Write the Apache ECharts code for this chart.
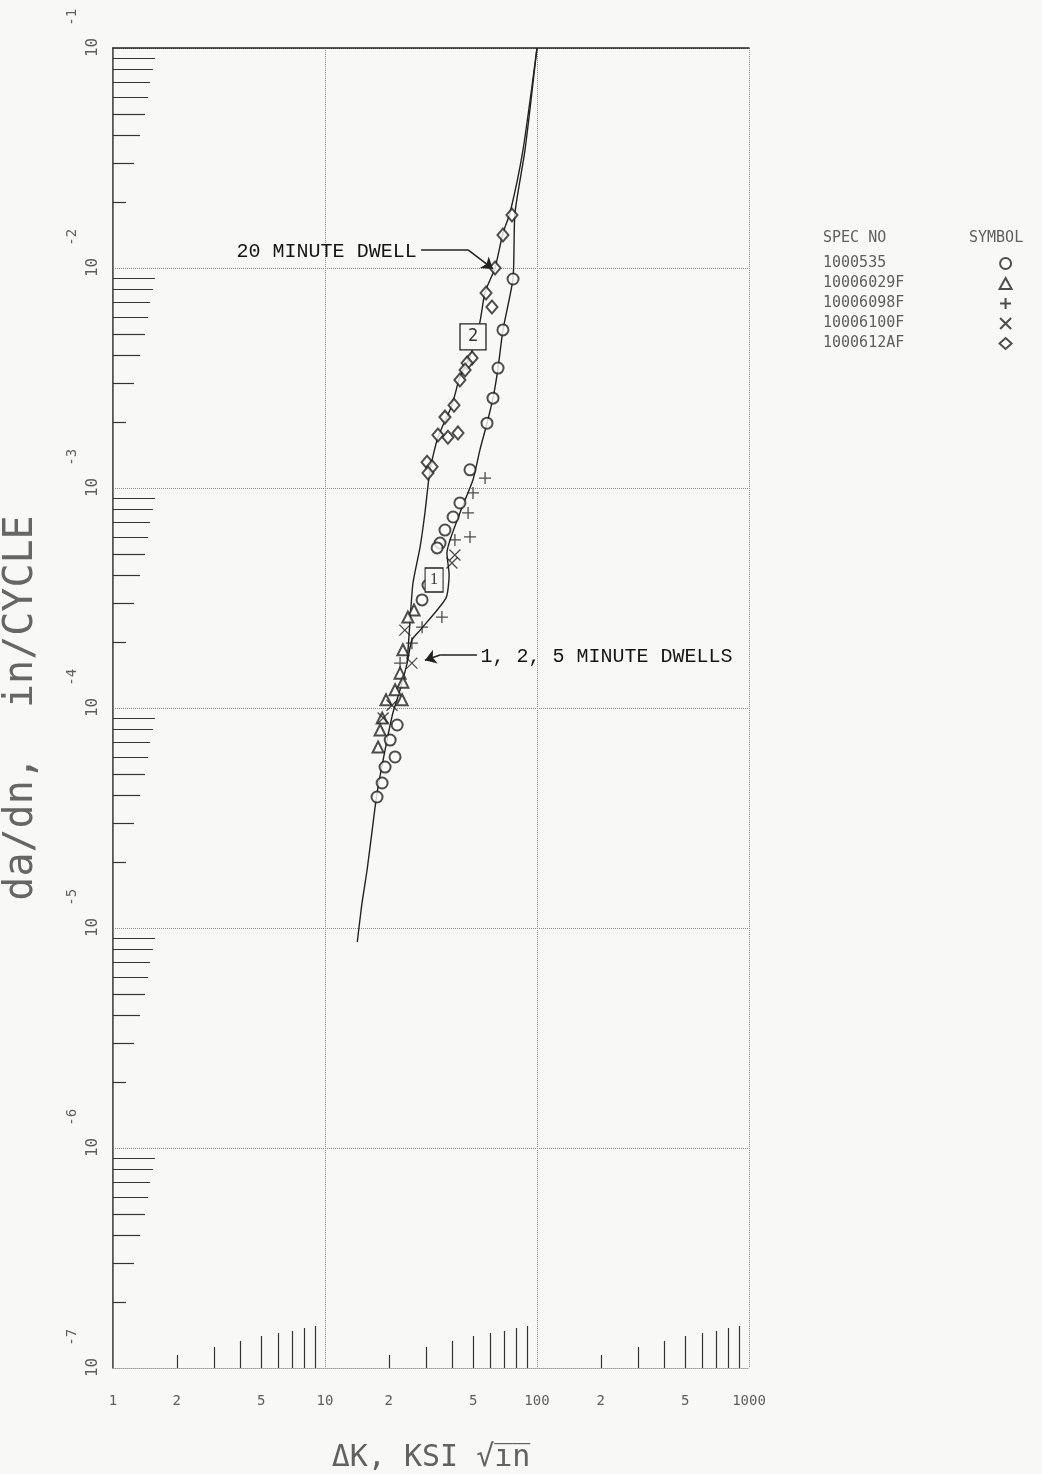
<!DOCTYPE html>
<html>
<head>
<meta charset="utf-8">
<script src="https://cdn.jsdelivr.net/npm/echarts@6/dist/echarts.min.js"></script>
<style>
  html, body { margin: 0; padding: 0; background: #f8f8f6; }
  #main { width: 1042px; height: 1474px; }
</style>
</head>
<body>
<div id="main"></div>
<script>
// legend: specimen numbers
var specNos = ['1000535', '10006029F', '10006098F', '10006100F', '1000612AF'];

// fitted curve, 20 minute dwell
var dwell20K = [100, 85.9, 74.6, 69.1, 63.4, 56.9, 53.8, 48.3, 43.3, 39.7, 34.1, 31.3, 29.6, 28.1, 26.0, 25.2, 24.4];
var dwell20Rate = [0.1, 0.0344, 0.01778, 0.01443, 0.01, 0.00778, 0.00568, 0.00394, 0.0032, 0.00238, 0.0017, 0.00121, 0.00077, 0.00054, 0.00037, 0.000251, 0.00016];

// fitted curve, 1, 2, 5 minute dwells
var dwellShortK = [100, 87.8, 78.7, 77.1, 69.1, 65.5, 62.0, 58.1, 53.8, 49.9, 43.3, 37.6, 38.5, 37.2, 28.1, 25.7, 24.4, 22.6, 20.9, 19.2, 17.6, 16.7, 15.8, 14.9, 14.2];
var dwellShortRate = [0.1, 0.0344, 0.01778, 0.009, 0.00523, 0.00351, 0.00256, 0.00197, 0.00149, 0.00109, 0.00077, 0.000506, 0.000403, 0.000316, 0.000226, 0.000204, 0.00016, 0.000121, 0.0000949, 0.0000644, 0.0000411, 0.0000279, 0.0000184, 0.0000127, 0.00000864];

// test points
var s535K = [77.1, 69.1, 65.5, 62.0, 58.1, 48.3, 43.3, 40.2, 36.8, 34.9, 33.8, 30.6, 28.7, 21.9, 20.3, 21.4, 19.2, 18.6, 17.6];
var s535Rate = [0.00891, 0.00523, 0.00351, 0.00256, 0.00197, 0.00121, 0.000855, 0.000738, 0.000644, 0.000562, 0.000534, 0.000362, 0.00031, 0.0000837, 0.0000715, 0.0000599, 0.0000539, 0.0000456, 0.0000394];

var s6029K = [26.3, 24.6, 23.3, 21.4, 22.6, 23.3, 23.1, 19.4, 18.6, 18.2, 17.8];
var s6029Rate = [0.000279, 0.000259, 0.000184, 0.000121, 0.000144, 0.000131, 0.000109, 0.000109, 0.0000901, 0.0000794, 0.0000665];

var s6098K = [56.9, 49.9, 47.3, 41.0, 48.3, 35.6, 28.7, 25.7, 22.6];
var s6098Rate = [0.00111, 0.00095, 0.00077, 0.000581, 0.000599, 0.000259, 0.000233, 0.000197, 0.00016];

var s6100K = [41.0, 39.7, 23.8, 25.7, 20.7, 18.8];
var s6100Rate = [0.000496, 0.000456, 0.000226, 0.00016, 0.000103, 0.0000901];

var s612K = [76.2, 69.1, 63.4, 57.5, 61.3, 49.4, 46.8, 45.8, 43.3, 40.6, 36.8, 34.1, 38.0, 42.4, 30.3, 32.0, 30.6];
var s612Rate = [0.01742, 0.01413, 0.01, 0.0077, 0.00665, 0.0039, 0.0037, 0.00344, 0.0031, 0.00238, 0.0021, 0.00174, 0.0017, 0.00178, 0.00131, 0.00125, 0.00117];

// axis labels / ticks
var xLabelValues = [1, 2, 5, 10, 20, 50, 100, 200, 500, 1000];
var yDecades = [-7, -6, -5, -4, -3, -2, -1];
var minorDigits = [2, 3, 4, 5, 6, 7, 8, 9];
var minorLen = [13, 21, 27, 32, 35, 37, 40, 42];

function pairs(xs, ys) {
  return xs.map(function (x, i) { return [x, ys[i]]; });
}

var ink = '#222';
var faint = '#5e5e5e';
var bg = '#f8f8f6';
var mono = '"DejaVu Sans Mono", monospace';
var typewriter = '"Liberation Mono", "DejaVu Sans Mono", monospace';

var chart = echarts.init(document.getElementById('main'), null, { renderer: 'canvas' });

var xAxes = [
  {
    type: 'log', logBase: 10, min: 1, max: 1000, position: 'bottom',
    axisLine: { show: true, lineStyle: { color: '#999', type: 'dotted' } },
    axisTick: { show: false }, axisLabel: { show: false }, splitLine: { show: false },
    name: 'ΔK, KSI √i\u0305n\u0305', nameLocation: 'middle', nameGap: 75,
    nameTextStyle: { fontFamily: mono, fontSize: 30, color: '#626262' }
  },
  {
    type: 'log', logBase: 10, min: 1, max: 1000, position: 'top',
    axisLine: { show: true, lineStyle: { color: ink, width: 1.5 } },
    axisTick: { show: false }, axisLabel: { show: false }, splitLine: { show: false }
  },
  {
    type: 'value', min: 0, max: 3, interval: 1, position: 'bottom',
    axisLine: { show: false }, axisTick: { show: false },
    splitLine: { show: true, lineStyle: { color: '#8c8c8c', type: 'dotted', width: 1 } },
    axisLabel: {
      customValues: xLabelValues.map(Math.log10),
      margin: 26,
      fontFamily: mono, fontSize: 14, color: faint,
      formatter: function (v) {
        var e = Math.floor(v + 1e-9);
        var d = Math.round(Math.pow(10, v - e));
        return d === 1 ? String(Math.round(Math.pow(10, v))) : String(d);
      }
    }
  }
];

var yAxes = [
  {
    type: 'log', logBase: 10, min: 1e-7, max: 1e-1, position: 'left',
    axisLine: { show: true, lineStyle: { color: ink, width: 1.5 } },
    axisTick: { show: false }, axisLabel: { show: false }, splitLine: { show: false },
    name: 'da/dn,  in/CYCLE', nameLocation: 'middle', nameGap: 71, nameRotate: 90,
    nameTextStyle: { fontFamily: mono, fontSize: 40, color: '#666' }
  },
  {
    type: 'log', logBase: 10, min: 1e-7, max: 1e-1, position: 'right',
    axisLine: { show: true, lineStyle: { color: '#777', width: 1 } },
    axisTick: { show: false }, axisLabel: { show: false }, splitLine: { show: false }
  },
  {
    type: 'value', min: -7, max: -1, interval: 1, position: 'left',
    axisLine: { show: false }, axisTick: { show: false },
    splitLine: { show: true, lineStyle: { color: '#8c8c8c', type: 'dotted', width: 1 } },
    axisLabel: {
      customValues: yDecades,
      rotate: 90,
      margin: 12,
      formatter: function (v) { return '{s|}{b|10}{e|' + Math.round(v) + '}'; },
      rich: {
        s: { width: 30, lineHeight: 36 },
        b: { fontFamily: mono, fontSize: 16, lineHeight: 16, color: faint, verticalAlign: 'bottom' },
        e: { fontFamily: mono, fontSize: 14, lineHeight: 14, color: faint, verticalAlign: 'top', padding: [0, 0, 0, 12] }
      }
    }
  }
];

// minor tick marks, one axis per digit so each digit gets its own length
minorDigits.forEach(function (d, i) {
  var xs = [0, 1, 2].map(function (k) { return k + Math.log10(d); });
  var ys = [-7, -6, -5, -4, -3, -2].map(function (k) { return k + Math.log10(d); });
  xAxes.push({
    type: 'value', min: 0, max: 3, position: 'bottom',
    axisLine: { show: false }, axisLabel: { show: false }, splitLine: { show: false },
    axisTick: { show: true, inside: true, length: minorLen[i], customValues: xs, lineStyle: { color: '#333', width: 1.2 } }
  });
  yAxes.push({
    type: 'value', min: -7, max: -1, position: 'left',
    axisLine: { show: false }, axisLabel: { show: false }, splitLine: { show: false },
    axisTick: { show: true, inside: true, length: minorLen[i], customValues: ys, lineStyle: { color: '#333', width: 1.2 } }
  });
});

var curveStyle = { color: ink, width: 1.4 };
var annoLabel = { fontFamily: typewriter, fontSize: 20, color: '#151515' };
var hidden = { symbol: 'circle', symbolSize: 1, itemStyle: { color: 'rgba(0,0,0,0)' } };

var markerBase = { type: 'scatter', xAxisIndex: 0, yAxisIndex: 0, z: 4 };

function padName(n) {
  var s = n;
  while (s.length < 19) s += '\u00a0';
  return s;
}

var option = {
  backgroundColor: bg,
  animation: false,
  grid: { left: 113, top: 48, width: 636, height: 1320, outerBoundsMode: 'none', containLabel: false },
  title: [
    { text: 'SPEC NO', left: 818, top: 226, textStyle: { fontFamily: mono, fontSize: 15, fontWeight: 'normal', color: faint } },
    { text: 'SYMBOL', left: 964, top: 226, textStyle: { fontFamily: mono, fontSize: 15, fontWeight: 'normal', color: faint } }
  ],
  legend: {
    orient: 'vertical', left: 818, top: 250, itemGap: 3, itemWidth: 12, itemHeight: 11,
    align: 'right', selectedMode: false, data: specNos,
    formatter: padName,
    textStyle: { fontFamily: mono, fontSize: 15, lineHeight: 17, color: faint }
  },
  xAxis: xAxes,
  yAxis: yAxes,
  series: [
    {
      name: '20 minute dwell', type: 'line', xAxisIndex: 0, yAxisIndex: 0,
      data: pairs(dwell20K, dwell20Rate), showSymbol: false, smooth: 0.2,
      lineStyle: curveStyle, z: 3,
      markLine: {
        silent: true, symbolSize: 11, label: { show: false },
        lineStyle: { color: ink, width: 1.6, type: 'solid' },
        data: [
          [{ coord: [28.4, 0.01208], symbol: 'none' }, { coord: [47.3, 0.01208], symbol: 'none' }],
          [{ coord: [47.3, 0.01208], symbol: 'none' }, { coord: [62.0, 0.0099], symbol: 'arrow' }]
        ]
      },
      markPoint: {
        silent: true, z: 6,
        data: [
          Object.assign({ coord: [27.5, 0.01183],
            label: Object.assign({ show: true, position: 'left', distance: 1, formatter: '20 MINUTE DWELL' }, annoLabel) }, hidden),
          { coord: [49.9, 0.00486], symbol: 'rect', symbolSize: [26, 26],
            itemStyle: { color: bg, borderColor: ink, borderWidth: 1.3 },
            label: { show: true, position: 'inside', formatter: '2', fontFamily: mono, fontSize: 17, color: '#333' } }
        ]
      }
    },
    {
      name: '1, 2, 5 minute dwells', type: 'line', xAxisIndex: 0, yAxisIndex: 0,
      data: pairs(dwellShortK, dwellShortRate), showSymbol: false, smooth: 0.2,
      lineStyle: curveStyle, z: 3,
      markLine: {
        silent: true, symbolSize: 11, label: { show: false },
        lineStyle: { color: ink, width: 1.6, type: 'solid' },
        data: [
          [{ coord: [52.1, 0.000174], symbol: 'none' }, { coord: [34.9, 0.000174], symbol: 'none' }],
          [{ coord: [34.9, 0.000174], symbol: 'none' }, { coord: [29.6, 0.000165], symbol: 'arrow' }]
        ]
      },
      markPoint: {
        silent: true, z: 6,
        data: [
          Object.assign({ coord: [53.3, 0.0001706],
            label: Object.assign({ show: true, position: 'right', distance: 1, formatter: '1, 2, 5 MINUTE DWELLS' }, annoLabel) }, hidden),
          { coord: [32.7, 0.000382], symbol: 'rect', symbolSize: [18, 24],
            itemStyle: { color: bg, borderColor: ink, borderWidth: 1.2 },
            label: { show: true, position: 'inside', formatter: '1', fontFamily: '"Liberation Serif", serif', fontSize: 16, color: '#333' } }
        ]
      }
    },
    Object.assign({}, markerBase, {
      name: specNos[0], data: pairs(s535K, s535Rate), symbol: 'emptyCircle', symbolSize: 11,
      itemStyle: { color: ink, borderWidth: 1.2 }
    }),
    Object.assign({}, markerBase, {
      name: specNos[1], data: pairs(s6029K, s6029Rate), symbol: 'emptyTriangle', symbolSize: 11,
      itemStyle: { color: ink, borderWidth: 1.2 }
    }),
    Object.assign({}, markerBase, {
      name: specNos[2], data: pairs(s6098K, s6098Rate), symbol: 'path://M0,5L10,5M5,0L5,10', symbolSize: 12,
      itemStyle: { color: 'none', borderColor: ink, borderWidth: 1.3 }
    }),
    Object.assign({}, markerBase, {
      name: specNos[3], data: pairs(s6100K, s6100Rate), symbol: 'path://M0,0L10,10M10,0L0,10', symbolSize: 11,
      itemStyle: { color: 'none', borderColor: ink, borderWidth: 1.3 }
    }),
    Object.assign({}, markerBase, {
      name: specNos[4], data: pairs(s612K, s612Rate), symbol: 'emptyDiamond', symbolSize: [11, 13],
      itemStyle: { color: ink, borderWidth: 1.2 }
    })
  ]
};

chart.setOption(option);
</script>
</body>
</html>
